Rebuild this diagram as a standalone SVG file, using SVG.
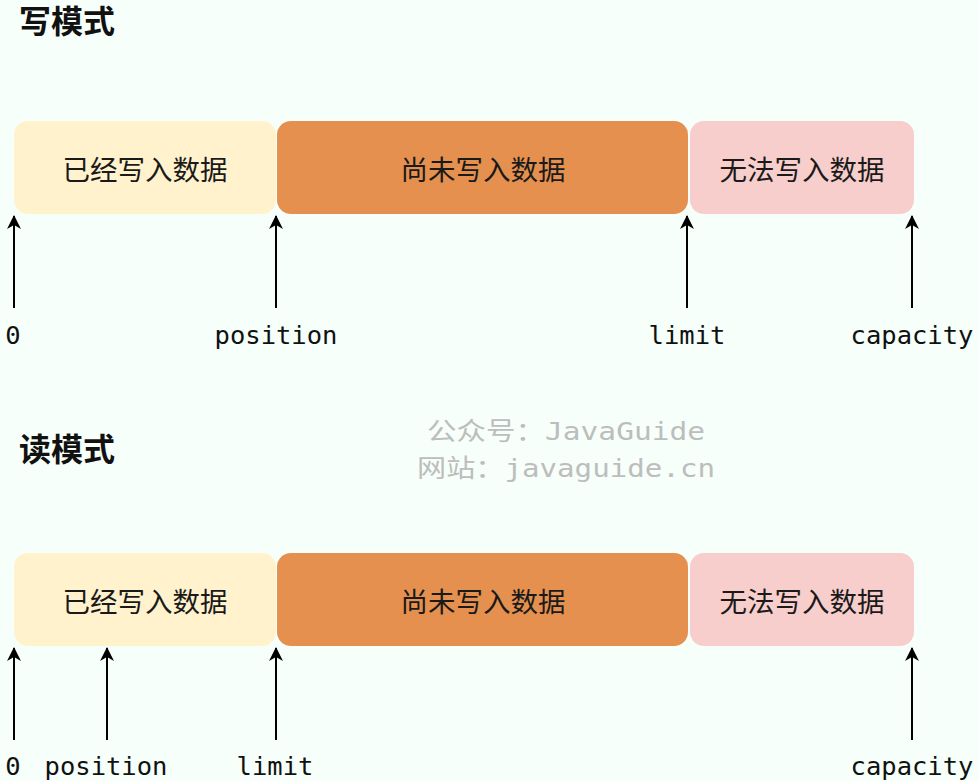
<svg xmlns="http://www.w3.org/2000/svg" width="979" height="781" viewBox="0 0 979 781">
<defs>
<style>
.title{font-family:"Noto Sans CJK SC","Noto Sans",sans-serif;font-size:32px;font-weight:700;fill:#111}
.seg{font-family:"Noto Sans CJK SC","Noto Sans",sans-serif;font-size:27.5px;fill:#1a1a1a;text-anchor:middle;dominant-baseline:central}
.lbl{font-family:"DejaVu Sans Mono","Liberation Mono",monospace;font-size:25.5px;fill:#111;text-anchor:middle}
.wm{font-family:"DejaVu Sans Mono","Noto Sans CJK SC",monospace;font-size:25px;fill:#bdbdbd}
.ar{stroke:#000;stroke-width:2;fill:none;marker-end:url(#ah)}
.c1{fill:#FFF2CC}.c2{fill:#E6904F}.c3{fill:#F8CECC}
</style>
<marker id="ah" markerWidth="14" markerHeight="14" viewBox="0 0 14 14" refX="13" refY="7" orient="auto" markerUnits="userSpaceOnUse">
<path d="M0,0 L14,7 L0,14 L4,7 Z" fill="#000"/>
</marker>
</defs>
<rect width="979" height="781" fill="#F6FFF9"/>

<g id="title-write"><text class="title" x="19" y="33">写模式</text></g>
<g id="w-written"><rect class="c1" x="14" y="121" width="262" height="93" rx="14"/><text class="seg" x="145" y="168">已经写入数据</text></g>
<g id="w-unwritten"><rect class="c2" x="277" y="121" width="411" height="93" rx="14"/><text class="seg" x="483" y="168">尚未写入数据</text></g>
<g id="w-blocked"><rect class="c3" x="690" y="121" width="224" height="93" rx="14"/><text class="seg" x="802" y="168">无法写入数据</text></g>
<g id="w-labels">
<text class="lbl" x="13" y="344">0</text>
<text class="lbl" x="276" y="344">position</text>
<text class="lbl" x="687" y="344">limit</text>
<text class="lbl" x="912" y="344">capacity</text>
</g>

<g id="watermark">
<text class="wm" x="427" y="440" textLength="278" lengthAdjust="spacingAndGlyphs">公众号：JavaGuide</text>
<text class="wm" x="417" y="477" textLength="298" lengthAdjust="spacingAndGlyphs">网站：javaguide.cn</text>
</g>

<g id="title-read"><text class="title" x="19" y="461">读模式</text></g>
<g id="r-written"><rect class="c1" x="14" y="553" width="262" height="93" rx="14"/><text class="seg" x="145" y="600">已经写入数据</text></g>
<g id="r-unwritten"><rect class="c2" x="277" y="553" width="411" height="93" rx="14"/><text class="seg" x="483" y="600">尚未写入数据</text></g>
<g id="r-blocked"><rect class="c3" x="690" y="553" width="224" height="93" rx="14"/><text class="seg" x="802" y="600">无法写入数据</text></g>
<g id="r-labels">
<text class="lbl" x="13" y="775">0</text>
<text class="lbl" x="106" y="775">position</text>
<text class="lbl" x="275" y="775">limit</text>
<text class="lbl" x="912" y="775">capacity</text>
</g>

<g id="connectors">
<line class="ar" x1="14" y1="308" x2="14" y2="216"/>
<line class="ar" x1="276" y1="308" x2="276" y2="216"/>
<line class="ar" x1="687" y1="308" x2="687" y2="216"/>
<line class="ar" x1="912" y1="308" x2="912" y2="216"/>
<line class="ar" x1="14" y1="740" x2="14" y2="648"/>
<line class="ar" x1="107" y1="740" x2="107" y2="648"/>
<line class="ar" x1="276" y1="740" x2="276" y2="648"/>
<line class="ar" x1="912" y1="740" x2="912" y2="648"/>
</g>
</svg>
